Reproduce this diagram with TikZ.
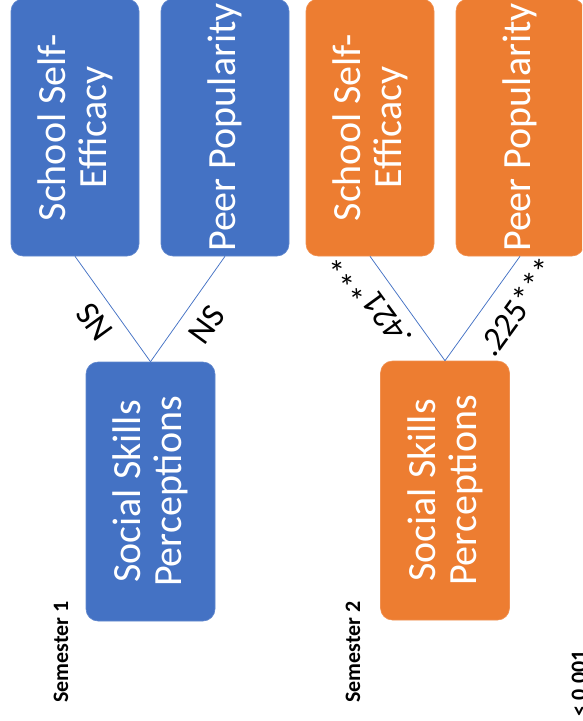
\documentclass[tikz,border=0pt]{standalone}
\usepackage{fontspec}
\setmainfont{Carlito}
\definecolor{boxblue}{HTML}{4472C4}
\definecolor{boxorange}{HTML}{ED7D31}
\begin{document}
\begin{tikzpicture}[x=1pt,y=-1pt,
  box/.style={rectangle, rounded corners=12pt, minimum width=128pt, minimum height=257pt, inner sep=0pt, line width=0.6pt},
  bluebox/.style={box, fill=boxblue, draw=boxblue!85!white},
  orangebox/.style={box, fill=boxorange, draw=boxorange!85!white},
  tallbox/.style={minimum width=129pt, minimum height=259pt},
  boxtext/.style={rotate=90, text=white, align=center, inner sep=0pt,
    font=\fontsize{40}{41}\selectfont},
  link/.style={draw=boxblue, line width=0.75pt},
  coef/.style={inner sep=0pt, font=\fontsize{34}{40}\selectfont},
  semtext/.style={rotate=90, inner sep=0pt, font=\bfseries\fontsize{22}{26}\selectfont}]
\useasboundingbox (0,0) rectangle (582,721);
\clip (0,0) rectangle (582,721);

% Semester 1 (blue)
\node[bluebox] (eff1) at (75,127.5) {};
\node[boxtext] (eff1t) at (eff1.center) {School Self-\\Efficacy};
\node[bluebox] (pop1) at (225,127.5) {};
\node[boxtext] (pop1t) at (pop1.center) {Peer Popularity};
\node[bluebox, tallbox] (ssp1) at (150.5,491.5) {};
\node[boxtext] (ssp1t) at (ssp1.center) {Social Skills\\Perceptions};
\draw[link] (eff1.south) -- (ssp1.north);
\draw[link] (pop1.south) -- (ssp1.north);
\node[coef, rotate=126] (c11) at (95,322) {NS};
\node[coef, rotate=54] (c12) at (207,325) {NS};
\node[semtext] (sem1) at (61,652) {Semester 1};

% Semester 2 (orange)
\node[orangebox] (eff2) at (370,127.5) {};
\node[boxtext] (eff2t) at (eff2.center) {School Self-\\Efficacy};
\node[orangebox] (pop2) at (520,127.5) {};
\node[boxtext] (pop2t) at (pop2.center) {Peer Popularity};
\node[orangebox, tallbox] (ssp2) at (445,490.5) {};
\node[boxtext] (ssp2t) at (ssp2.center) {Social Skills\\Perceptions};
\draw[link] (eff2.south) -- (ssp2.north);
\draw[link] (pop2.south) -- (ssp2.north);
\node[coef, rotate=126] (c21) at (371,300) {.421***};
\node[coef, rotate=54] (c22) at (517,307) {.225***};
\node[semtext] (sem2) at (353,652) {Semester 2};

% significance note
\node[semtext, anchor=east] (note) at (580,650) {***\textit{p} < 0.001};
\end{tikzpicture}
\end{document}
